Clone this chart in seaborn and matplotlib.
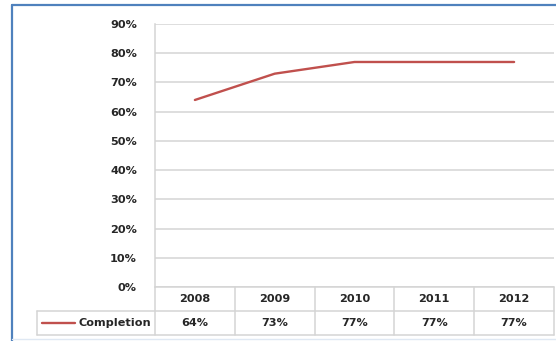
import matplotlib
matplotlib.use("Agg")
import matplotlib.pyplot as plt
import matplotlib.transforms as mtransforms
from matplotlib.lines import Line2D
import pandas as pd
import seaborn as sns

years = ["2008", "2009", "2010", "2011", "2012"]
completion = [0.64, 0.73, 0.77, 0.77, 0.77]
series_name = "Completion"
y_ticks = [0.0, 0.1, 0.2, 0.3, 0.4, 0.5, 0.6, 0.7, 0.8, 0.9]

sns.set_theme(style="white")
plt.rcParams["font.family"] = ["DejaVu Sans"]

LINE_RED = "#c0504d"
GRID = "#d4d4d4"
FRAME_BLUE = "#4f81bd"
TXT = "#262626"
FS = 8.1

W, H = 556, 341
fig = plt.figure(figsize=(W / 100, H / 100), dpi=100)
fig.patch.set_facecolor("white")

# plot area in pixel terms
left_px, right_px, top_px, bottom_px = 155, 554, 24, 287
ax = fig.add_axes([left_px / W, 1 - bottom_px / H,
                   (right_px - left_px) / W, (bottom_px - top_px) / H])

df = pd.DataFrame({"year": years, "value": completion})
sns.lineplot(data=df, x="year", y="value", ax=ax, color=LINE_RED,
             linewidth=1.7, sort=False)

ax.set_xlim(-0.5, len(years) - 0.5)
ax.set_ylim(0, 0.9)
ax.set_yticks(y_ticks)
ax.set_yticklabels([f"{t:.0%}" for t in y_ticks], fontsize=FS,
                   fontweight="bold", color=TXT)
ax.tick_params(axis="y", length=0, pad=13)
ax.set_xticks([])
ax.set_xlabel("")
ax.set_ylabel("")
ax.yaxis.grid(True, color=GRID, linewidth=1.1)
ax.set_axisbelow(True)
for side in ["top", "right", "bottom"]:
    ax.spines[side].set_visible(False)
ax.spines["left"].set_color(GRID)
ax.spines["left"].set_linewidth(1.1)

# data table under the plot: x in data units, y in axes units
trans = mtransforms.blended_transform_factory(ax.transData, ax.transAxes)
row_h = 24 / (bottom_px - top_px)
label_left = (37 - left_px) / (right_px - left_px) * len(years) - 0.5

def tline(xs, ys):
    ax.add_line(Line2D(xs, ys, transform=trans, color=GRID, linewidth=1.1,
                       clip_on=False))

x_end = len(years) - 0.5
tline([-0.5, x_end], [0, 0])
tline([label_left, x_end], [-row_h, -row_h])
tline([label_left, x_end], [-2 * row_h, -2 * row_h])
tline([label_left, label_left], [-row_h, -2 * row_h])
for i in range(len(years) + 1):
    tline([i - 0.5, i - 0.5], [0, -2 * row_h])

for i, (yr, v) in enumerate(zip(years, completion)):
    ax.text(i, -0.5 * row_h, yr, transform=trans, ha="center", va="center",
            fontsize=FS, fontweight="bold", color=TXT)
    ax.text(i, -1.5 * row_h, f"{v:.0%}", transform=trans, ha="center",
            va="center", fontsize=FS, fontweight="bold", color=TXT)

# legend key inside the row label cell
key_x0 = label_left + 5 / 80
key_x1 = label_left + 38 / 80
ax.add_line(Line2D([key_x0, key_x1], [-1.5 * row_h, -1.5 * row_h],
                   transform=trans, color=LINE_RED, linewidth=1.7,
                   clip_on=False))
ax.text(-0.5 - 4 / 80, -1.5 * row_h, series_name, transform=trans,
        ha="right", va="center", fontsize=FS, fontweight="bold", color=TXT)

# outer chart frame (left and top edges)
fig.add_artist(Line2D([11.5 / W, 11.5 / W], [0, 1 - 5 / H],
                      transform=fig.transFigure, color=FRAME_BLUE,
                      linewidth=1.6))
fig.add_artist(Line2D([11.5 / W, 1], [1 - 5 / H, 1 - 5 / H],
                      transform=fig.transFigure, color=FRAME_BLUE,
                      linewidth=1.6))
fig.add_artist(Line2D([11.5 / W, 1], [1 - 338.5 / H, 1 - 338.5 / H],
                      transform=fig.transFigure, color="#dfe8f3",
                      linewidth=1.0))

fig.savefig("out.png", dpi=100, facecolor="white")
